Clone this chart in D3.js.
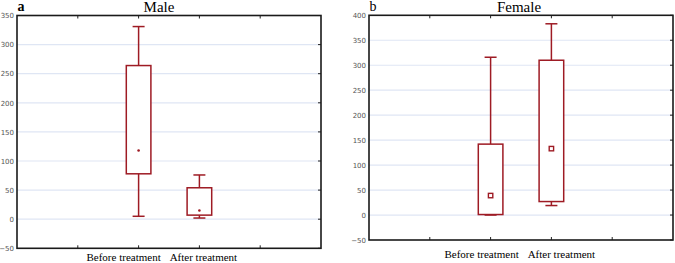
<!DOCTYPE html>
<html>
<head>
<meta charset="utf-8">
<script src="https://cdn.jsdelivr.net/npm/d3@7"></script>
<style>
  body { margin: 0; background: #fff; }
  svg { display: block; }
</style>
</head>
<body>
<svg id="chart" width="675" height="263"></svg>
<script>
const categories = ['Before treatment', 'After treatment']

// male: min, q1, median, q3, max per category
const maleMin = [5, 2]
const maleQ1 = [78, 7]
const maleMed = [118, 15]
const maleQ3 = [264, 54]
const maleMax = [331, 76]
const maleTicks = [-50, 0, 50, 100, 150, 200, 250, 300, 350]

const femaleMin = [0, 19]
const femaleQ1 = [1, 27]
const femaleMed = [39, 133]
const femaleQ3 = [142, 310]
const femaleMax = [316, 383]
const femaleTicks = [-50, 0, 50, 100, 150, 200, 250, 300, 350, 400]

let boxColour = '#9e1b24'
let gridColour = '#dfe6f4'

let panels = [
  {
    letter: 'a', title: 'Male', bold: true,
    min: maleMin, q1: maleQ1, med: maleMed, q3: maleQ3, max: maleMax,
    ticks: maleTicks,
    left: 17, right: 321, top: 15.5, bottom: 248.3,
    titleX: 159, labelY: 261, labelShift: [-15, 4],
    marker: 'dot'
  },
  {
    letter: 'b', title: 'Female', bold: false,
    min: femaleMin, q1: femaleQ1, med: femaleMed, q3: femaleQ3, max: femaleMax,
    ticks: femaleTicks,
    left: 369, right: 673, top: 15.3, bottom: 240,
    titleX: 519, labelY: 258, labelShift: [-9, 10],
    marker: 'square'
  }
]

let svg = d3.select('#chart')

panels.forEach(function(p) {
  let g = svg.append('g')

  let x = d3.scaleLinear()
      .domain([-2, 3])
      .range([p.left, p.right])

  let y = d3.scaleLinear()
      .domain([p.ticks[0], p.ticks[p.ticks.length - 1]])
      .range([p.bottom, p.top])

  let data = categories.map(function(c, i) {
    return {cat: c, i: i, min: p.min[i], q1: p.q1[i], med: p.med[i], q3: p.q3[i], max: p.max[i]}
  })

  // gridlines
  g.append('g')
    .selectAll('line')
      .data(p.ticks.slice(1, -1))
    .enter().append('line')
      .attr('x1', p.left)
      .attr('x2', p.right)
      .attr('y1', function(d) { return y(d) })
      .attr('y2', function(d) { return y(d) })
      .attr('stroke', gridColour)
      .attr('stroke-width', 1.2)

  // y axis labels
  let yAxis = g.append('g')
      .attr('transform', 'translate(' + p.left + ',0)')
      .call(d3.axisLeft(y).tickValues(p.ticks).tickSize(0).tickPadding(3))
  yAxis.select('.domain').remove()
  yAxis.selectAll('text')
      .style('font-family', '"DejaVu Sans", sans-serif')
      .style('font-size', '7px')
      .attr('fill', '#555')

  // inner tick marks on right side
  g.append('g')
    .selectAll('line')
      .data(p.ticks)
    .enter().append('line')
      .attr('x1', p.right - 3)
      .attr('x2', p.right)
      .attr('y1', function(d) { return y(d) })
      .attr('y2', function(d) { return y(d) })
      .attr('stroke', '#222')
      .attr('stroke-width', 1)

  // x tick marks on top and bottom
  let xt = [-1, 0, 1, 2]
  g.append('g')
    .selectAll('line')
      .data(xt)
    .enter().append('line')
      .attr('x1', function(d) { return x(d) })
      .attr('x2', function(d) { return x(d) })
      .attr('y1', p.top)
      .attr('y2', p.top + 3)
      .attr('stroke', '#222')
  g.append('g')
    .selectAll('line')
      .data(xt)
    .enter().append('line')
      .attr('x1', function(d) { return x(d) })
      .attr('x2', function(d) { return x(d) })
      .attr('y1', p.bottom)
      .attr('y2', p.bottom - 3)
      .attr('stroke', '#222')

  // frame
  g.append('rect')
      .attr('x', p.left)
      .attr('y', p.top)
      .attr('width', p.right - p.left)
      .attr('height', p.bottom - p.top)
      .attr('fill', 'none')
      .attr('stroke', '#1a1a1a')
      .attr('stroke-width', 1.6)

  let boxW = 24.6
  let capW = 12

  let boxes = g.append('g')
    .selectAll('g')
      .data(data)
    .enter().append('g')
      .attr('stroke', boxColour)
      .attr('stroke-width', 1.5)
      .attr('fill', 'none')

  // whiskers
  boxes.append('line')
      .attr('x1', function(d) { return x(d.i) })
      .attr('x2', function(d) { return x(d.i) })
      .attr('y1', function(d) { return y(d.max) })
      .attr('y2', function(d) { return y(d.q3) })
  boxes.append('line')
      .attr('x1', function(d) { return x(d.i) })
      .attr('x2', function(d) { return x(d.i) })
      .attr('y1', function(d) { return y(d.q1) })
      .attr('y2', function(d) { return y(d.min) })
  boxes.append('line')
      .attr('x1', function(d) { return x(d.i) - capW / 2 })
      .attr('x2', function(d) { return x(d.i) + capW / 2 })
      .attr('y1', function(d) { return y(d.max) })
      .attr('y2', function(d) { return y(d.max) })
  boxes.append('line')
      .attr('x1', function(d) { return x(d.i) - capW / 2 })
      .attr('x2', function(d) { return x(d.i) + capW / 2 })
      .attr('y1', function(d) { return y(d.min) })
      .attr('y2', function(d) { return y(d.min) })

  // box
  boxes.append('rect')
      .attr('x', function(d) { return x(d.i) - boxW / 2 })
      .attr('y', function(d) { return y(d.q3) })
      .attr('width', boxW)
      .attr('height', function(d) { return y(d.q1) - y(d.q3) })
      .attr('fill', '#fff')

  // median marker
  if (p.marker === 'dot') {
    boxes.append('circle')
        .attr('cx', function(d) { return x(d.i) })
        .attr('cy', function(d) { return y(d.med) })
        .attr('r', 1.3)
        .attr('fill', boxColour)
        .attr('stroke', 'none')
  } else {
    boxes.append('rect')
        .attr('x', function(d) { return x(d.i) - 2.2 })
        .attr('y', function(d) { return y(d.med) - 2.2 })
        .attr('width', 4.4)
        .attr('height', 4.4)
        .attr('stroke-width', 1.4)
  }

  // category labels
  g.append('g')
    .selectAll('text')
      .data(data)
    .enter().append('text')
      .attr('x', function(d) { return x(d.i) + p.labelShift[d.i] })
      .attr('y', p.labelY)
      .attr('text-anchor', 'middle')
      .style('font-family', '"Liberation Serif", "Times New Roman", serif')
      .style('font-size', '11px')
      .attr('fill', '#000')
      .text(function(d) { return d.cat })

  // title and panel letter
  g.append('text')
      .attr('x', p.titleX)
      .attr('y', 11.5)
      .attr('text-anchor', 'middle')
      .style('font-family', '"Liberation Serif", "Times New Roman", serif')
      .style('font-size', '15px')
      .text(p.title)

  g.append('text')
      .attr('x', p.left + 0.5)
      .attr('y', 11)
      .style('font-family', '"Liberation Serif", "Times New Roman", serif')
      .style('font-size', '14px')
      .style('font-weight', p.bold ? 'bold' : 'normal')
      .text(p.letter)
})
</script>
</body>
</html>
